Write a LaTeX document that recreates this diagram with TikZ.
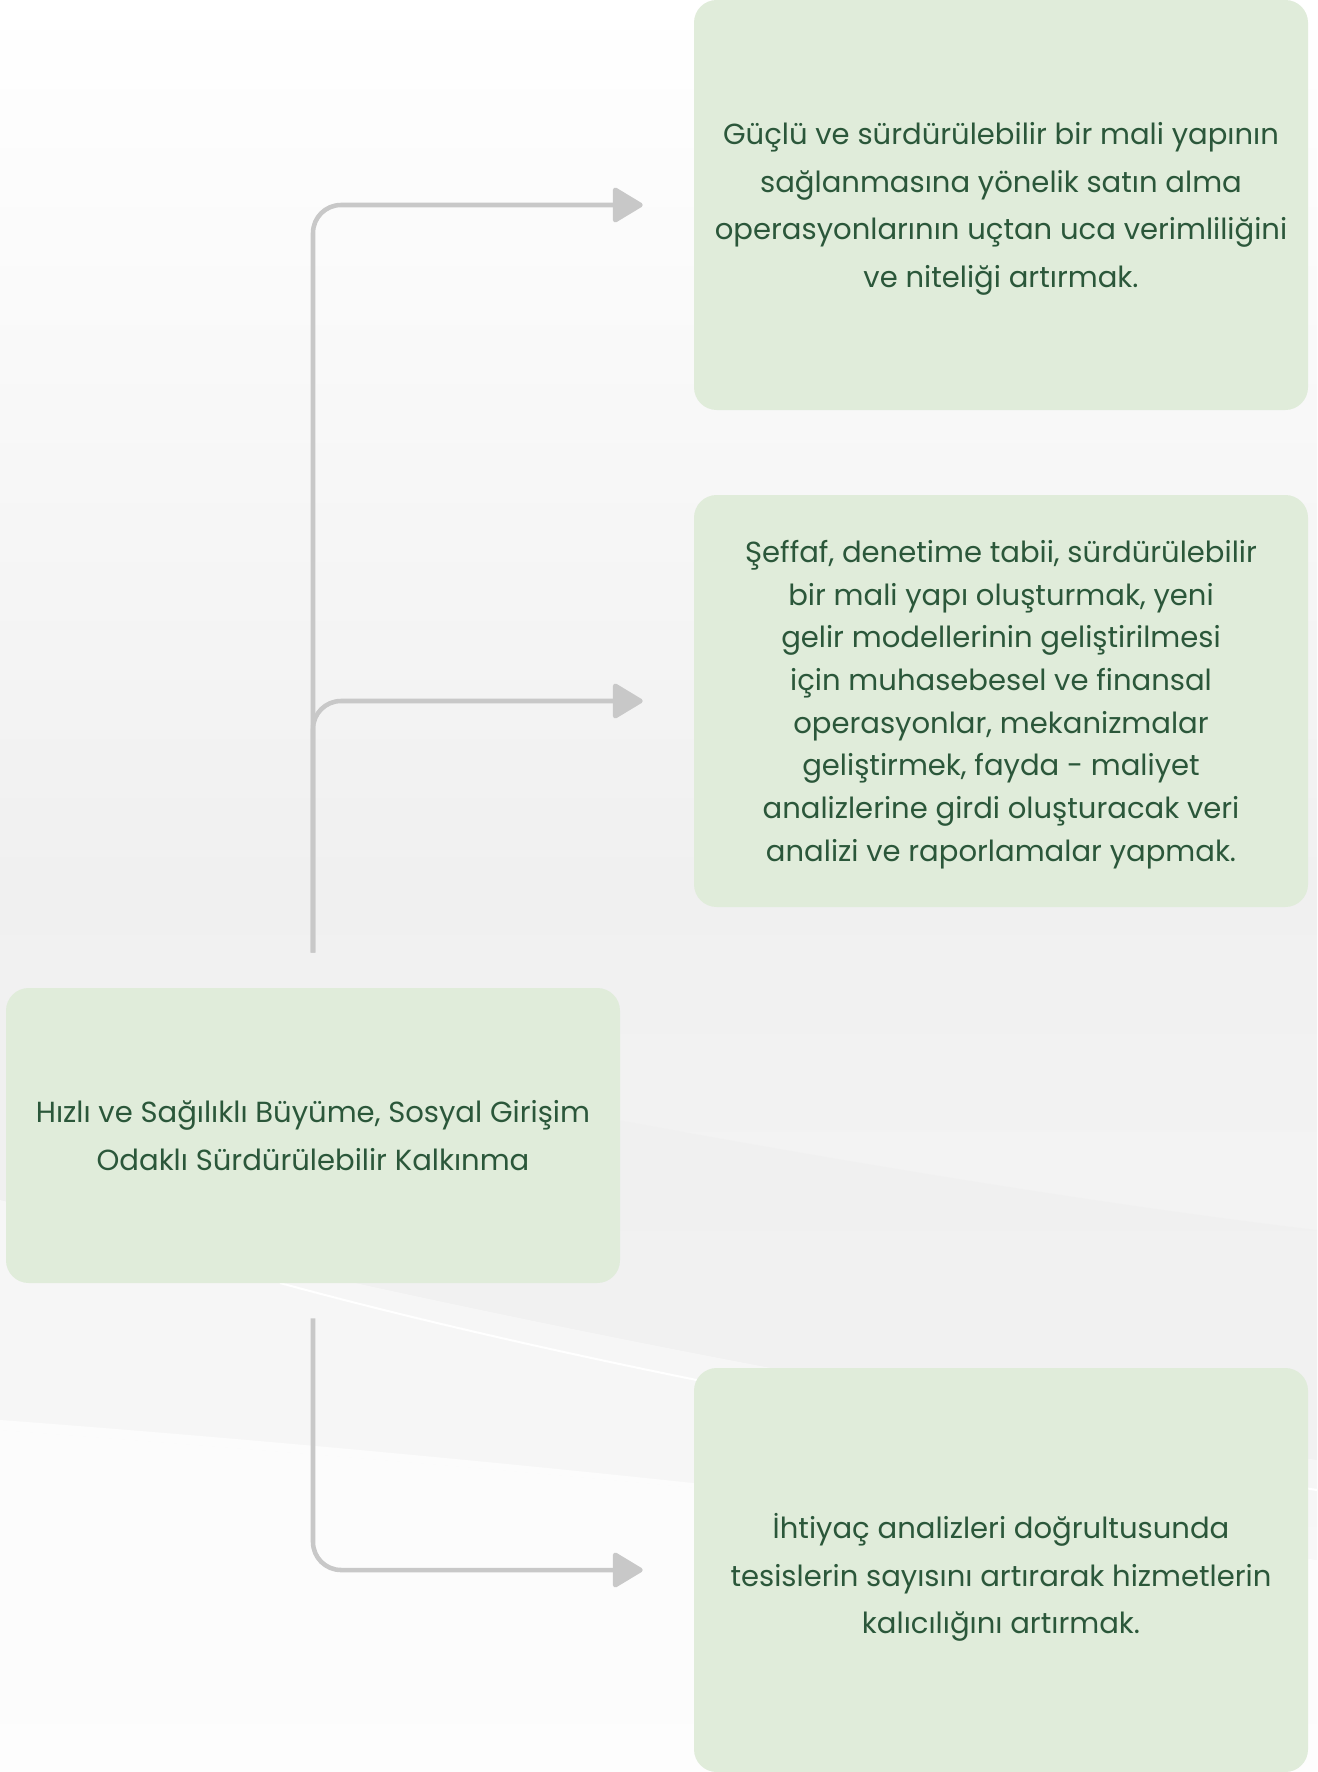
\documentclass[tikz,border=0pt]{standalone}
\usepackage{fontspec}
\setmainfont[Ligatures=NoCommon]{Poppins}
\usetikzlibrary{arrows.meta}
\definecolor{boxfill}{HTML}{E0ECDA}
\definecolor{txtgreen}{HTML}{2B573A}
\definecolor{conngray}{HTML}{C8C8C8}
\definecolor{bgA}{HTML}{F9F9F9}
\definecolor{bgB}{HTML}{F0F0F0}
\newcommand{\shiftedtext}[2]{\raisebox{#1}[\height][\depth]{\parbox{450pt}{\centering #2}}}
\begin{document}
\begin{tikzpicture}[x=0.75pt,y=-0.75pt,
  box/.style={fill=boxfill, rounded corners=17pt, minimum width=460.5pt,
    align=center, text=txtgreen, font=\fontsize{21.8}{35.6}\selectfont, inner sep=0pt},
  conn/.style={draw=conngray, line width=3.4pt, rounded corners=21pt,
    -{Triangle[length=24pt,width=28pt,round]}, shorten <=26.25pt, shorten >=38.25pt}]
\useasboundingbox (0,0) rectangle (1317,1772);
% background
\shade[top color=white, bottom color=bgA, middle color=bgB] (0,0) rectangle (1317,1772);
\fill[bgB, opacity=0.7] (0,1000) .. controls (400,1080) and (900,1180) .. (1317,1230)
  -- (1317,1560) .. controls (900,1500) and (400,1460) .. (0,1430) -- cycle;
\fill[white, opacity=0.7] (0,1420) .. controls (400,1450) and (900,1500) .. (1317,1560)
  -- (1317,1772) -- (0,1772) -- cycle;
\draw[white, line width=1.5pt] (280,1283) .. controls (600,1370) and (1000,1440) .. (1317,1490);
\fill[white, opacity=0.4] (0,1200) .. controls (400,1300) and (900,1400) .. (1317,1460)
  -- (1317,1560) .. controls (900,1500) and (400,1460) .. (0,1430) -- cycle;
% boxes
\node[box, minimum height=307.5pt] (b1) at (1001,205)
  {\shiftedtext{-3pt}{Güçlü ve sürdürülebilir bir mali yapının\\ sağlanmasına yönelik satın alma\\
   operasyonlarının uçtan uca verimliliğini\\ ve niteliği artırmak.}};
\node[box, minimum height=309pt, font=\fontsize{21.8}{32}\selectfont] (b2) at (1001,701)
  {\shiftedtext{-2.6pt}{Şeffaf, denetime tabii, sürdürülebilir\\ bir mali yapı oluşturmak, yeni\\
   gelir modellerinin geliştirilmesi\\ için muhasebesel ve finansal\\
   operasyonlar, mekanizmalar\\ geliştirmek, fayda - maliyet\\
   analizlerine girdi oluşturacak veri\\ analizi ve raporlamalar yapmak.}};
\node[box, minimum height=221.25pt] (main) at (313,1135.5)
  {Hızlı ve Sağılıklı Büyüme, Sosyal Girişim\\ Odaklı Sürdürülebilir Kalkınma};
\node[box, minimum height=303pt] (b4) at (1001,1570)
  {\shiftedtext{-5.5pt}{İhtiyaç analizleri doğrultusunda\\ tesislerin sayısını artırarak hizmetlerin\\
   kalıcılığını artırmak.}};
% connectors
\draw[conn] (main.north) |- (b1.west);
\draw[conn] (main.north) |- (b2.west);
\draw[conn] (main.south) |- (b4.west);
\end{tikzpicture}
\end{document}
